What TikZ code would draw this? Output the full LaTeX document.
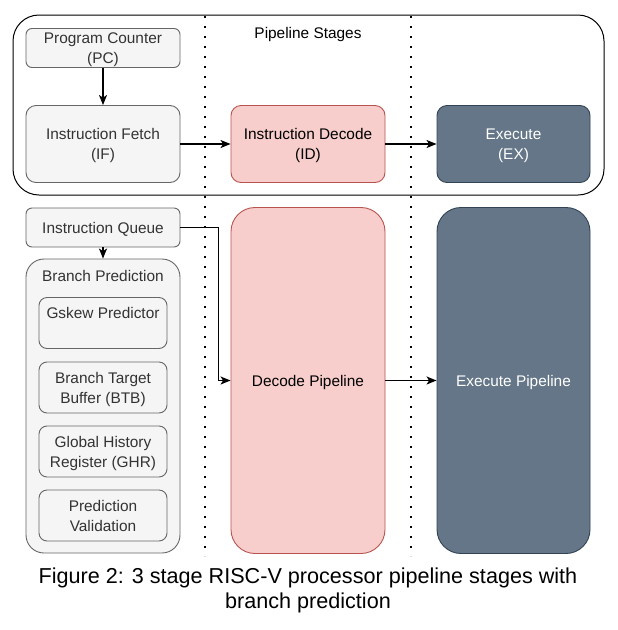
\documentclass[tikz,border=0pt]{standalone}
\usepackage{fontspec}
\setmainfont{Liberation Sans}
\usepackage{xcolor}
\usetikzlibrary{arrows.meta}

\definecolor{grayfill}{HTML}{F5F5F5}
\definecolor{grayline}{HTML}{666666}
\definecolor{graytext}{HTML}{333333}
\definecolor{redfill}{HTML}{F8CECC}
\definecolor{redline}{HTML}{B85450}
\definecolor{bluefill}{HTML}{647687}
\definecolor{blueline}{HTML}{314354}

\begin{document}
\begin{tikzpicture}[x=1pt, y=-1pt]
	\useasboundingbox (0,0) rectangle (618,630);
	% outer frame and stage separators
	\draw [line width=1pt, rounded corners=26pt] (13,15) rectangle (604,195);
	\node [font=\fontsize{15.4}{20}\selectfont] (title) at (308,35) {Pipeline Stages};
	\draw [line width=2.2pt, dash pattern=on 2.2pt off 7.8pt] (205,16) -- (205,556);
	\draw [line width=2.2pt, dash pattern=on 2.2pt off 7.8pt] (411,16) -- (411,556);
	\begin{scope}[every node/.style = {draw, line width=0.9pt, inner sep=0pt,
			align=center, text depth=0pt, font=\fontsize{15.4}{20}\selectfont},
		gray/.style = {fill=grayfill, draw=grayline, text=graytext},
		red/.style = {fill=redfill, draw=redline, text=black},
		blue/.style = {fill=bluefill, draw=blueline, text=white}]
		\node [gray, rounded corners=6pt, minimum width=154pt, minimum height=39pt] (PC) at (103,48) {Program Counter\\(PC)};
		\node [gray, rounded corners=10pt, minimum width=154pt, minimum height=77pt] (IF) at (103,144) {Instruction Fetch\\(IF)};
		\node [red, rounded corners=10pt, minimum width=154pt, minimum height=77pt] (ID) at (308,144) {Instruction Decode\\(ID)};
		\node [blue, rounded corners=10pt, minimum width=153pt, minimum height=77pt] (EX) at (513.5,144) {Execute\\(EX)};
		\node [gray, rounded corners=6pt, minimum width=154pt, minimum height=39pt] (IQ) at (103,227.5) {Instruction Queue};
		\node [gray, rounded corners=18pt, minimum width=154pt, minimum height=294pt,
			label={[anchor=north, yshift=-11.5pt, draw=none, text=graytext]north:Branch Prediction}] (BP) at (103,406) {};
		\node [gray, rounded corners=8pt, minimum width=128pt, minimum height=51pt] (GS) at (103,323) {Gskew Predictor\\ \mbox{}};
		\node [gray, rounded corners=8pt, minimum width=128pt, minimum height=51pt] (BTB) at (103,387.5) {Branch Target\\Buffer (BTB)};
		\node [gray, rounded corners=8pt, minimum width=128pt, minimum height=51pt] (GHR) at (103,451.5) {Global History\\Register (GHR)};
		\node [gray, rounded corners=8pt, minimum width=128pt, minimum height=51pt] (PV) at (103,515.5) {Prediction\\Validation};
		\node [red, rounded corners=24pt, minimum width=154pt, minimum height=346pt] (DP) at (308,380.5) {Decode Pipeline};
		\node [blue, rounded corners=24pt, minimum width=153pt, minimum height=346pt] (EP) at (513.5,380.5) {Execute Pipeline};
	\end{scope}
	\begin{scope}[>={Stealth[black, length=10pt, width=8pt, inset=2.5pt]},
			every edge/.style={draw=black, line width=1.2pt}]
		\path [->] (PC) edge (IF);
		\path [->] (IF) edge (ID);
		\path [->] (ID) edge (EX);
		\path [->] (IQ) edge (BP);
		\path [->] (DP) edge (EP);
		\draw [->, line width=1.2pt] (IQ.east) -- ++(38,0) |- (DP.west);
	\end{scope}
	\node [align=center, font=\fontsize{21.6}{25}\selectfont] (caption) at (308,590)
		{Figure 2: 3 stage RISC-V processor pipeline stages with\\branch prediction};
\end{tikzpicture}
\end{document}
